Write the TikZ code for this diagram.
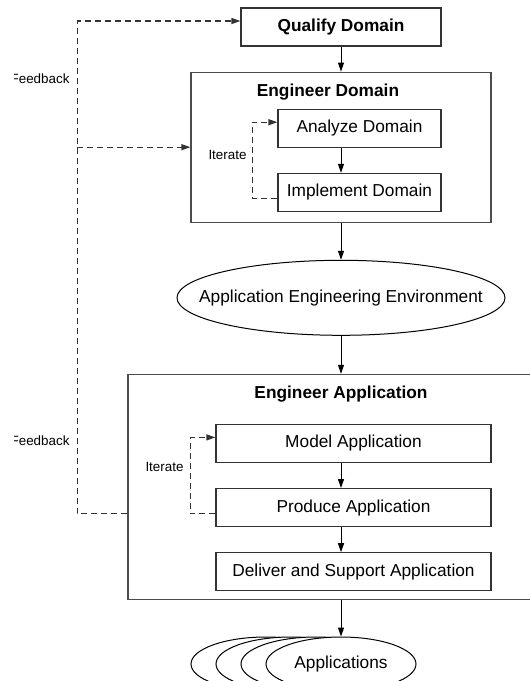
\documentclass[tikz,border=0pt]{standalone}
\usepackage{fontspec}
\setmainfont{Liberation Sans}
\usetikzlibrary{arrows.meta}
\usetikzlibrary{positioning}
\usetikzlibrary{shapes.geometric}

\begin{document}
\begin{tikzpicture}
    [x=0.5pt, y=-0.5pt,
      font=\fontsize{8.65pt}{10pt}\selectfont,
      line width=0.5pt,
      >={Triangle[length=4.5pt,width=3pt]},
      % single steps
      box/.style={rectangle, draw=black!80, line width=0.6pt, inner sep=0pt, minimum height=19pt},
      % frames around several steps
      group/.style={rectangle, draw=black!70, line width=0.6pt, inner sep=0pt},
      % results
      env/.style={ellipse, draw=black, line width=0.5pt, fill=white, inner sep=0pt},
      % loops back
      fb/.style={dash pattern=on 3pt off 2pt, draw=black!80, line width=0.6pt},
      lbl/.style={inner sep=0pt, font=\fontsize{6.7pt}{8pt}\selectfont},
      node distance=12.5pt]
    \useasboundingbox (0,0) rectangle (530,681);
    \clip (14,0) rectangle (530,681);

    % domain part
    \node[box, minimum width=100pt] (qualify) at (341,27) {\textbf{Qualify Domain}};
    \node[group, minimum width=150pt, minimum height=75pt, below=of qualify] (engdom) {};
    \node (engdomtitle) at ([xshift=-6.5pt,yshift=-10pt]engdom.north) {\textbf{Engineer Domain}};
    \node[box, minimum width=81.5pt, anchor=north] (analyze) at ([xshift=9.25pt,yshift=-18.5pt]engdom.north) {Analyze Domain};
    \node[box, minimum width=81.5pt, below=of analyze] (implement) {Implement Domain};
    \node[env, minimum width=164pt, minimum height=37.5pt, inner xsep=-20pt, below=18.5pt of engdom] (environ) {Application Engineering Environment};

    % application part
    \node[group, minimum width=213pt, minimum height=112.5pt, below=19pt of environ] (engapp) {};
    \node (engapptitle) at ([yshift=-10pt]engapp.north) {\textbf{Engineer Application}};
    \node[box, minimum width=137.5pt, anchor=north] (model) at ([xshift=6.25pt,yshift=-25pt]engapp.north) {Model Application};
    \node[box, minimum width=137.5pt, below=of model] (produce) {Produce Application};
    \node[box, minimum width=137.5pt, below=of produce] (deliver) {Deliver and Support Application};

    \coordinate (appcenter) at ([yshift=-32pt]engapp.south);
    \node[env, minimum width=75pt, minimum height=27pt] (app3) at ([xshift=-37.5pt]appcenter) {};
    \node[env, minimum width=75pt, minimum height=27pt] (app2) at ([xshift=-25pt]appcenter) {};
    \node[env, minimum width=75pt, minimum height=27pt] (app1) at ([xshift=-12.5pt]appcenter) {};
    \node[env, minimum width=75pt, minimum height=27pt] (apps) at (appcenter) {Applications};

    % labels
    \node[lbl, anchor=east] (fblabeltop) at (70,79) {Feedback};
    \node[lbl, anchor=east] (fblabelbot) at (70,441) {Feedback};
    \node[lbl, anchor=east] (itlabeldom) at (247,155) {Iterate};
    \node[lbl, anchor=east] (itlabelapp) at (184,467) {Iterate};

    \path[->]
      (qualify) edge (engdom)
      (engdom) edge (environ)
      (environ) edge (engapp)
      (engapp) edge (apps);
    \draw[->] (analyze.south -| engdom) -- (implement.north -| engdom);
    \draw[->] (model.south -| engapp) -- (produce.north -| engapp);
    \draw[->] (produce.south -| engapp) -- (deliver.north -| engapp);

    % iterate and feedback loops
    \coordinate (implloop) at ([yshift=-3pt]implement.west);
    \coordinate (prodloop) at ([yshift=-3pt]produce.west);
    \draw[fb,->] (implloop) -- ++(-12.5pt,0) |- ([yshift=3pt]analyze.west);
    \draw[fb,->] (prodloop) -- ++(-12.5pt,0) |- ([yshift=3pt]model.west);
    \coordinate (fbstart) at (engapp.west |- prodloop);
    \coordinate (fbcorner) at ([xshift=-25pt]fbstart);
    \draw[fb,->] (fbstart) -- (fbcorner) |- ([yshift=3pt]qualify.west);
    \draw[fb,->] (fbcorner |- engdom.west) -- (engdom.west);
\end{tikzpicture}
\end{document}
